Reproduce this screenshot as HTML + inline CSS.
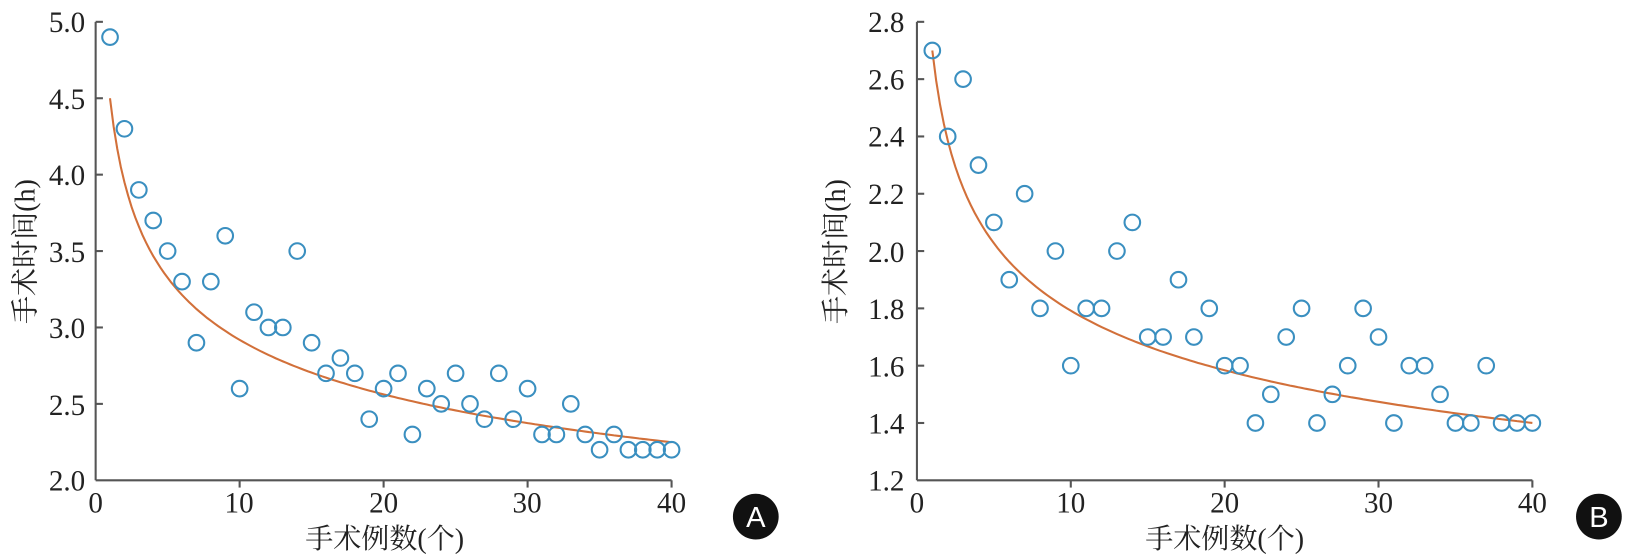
<!DOCTYPE html>
<html><head><meta charset="utf-8"><style>
html,body{margin:0;padding:0;background:#fff;}
svg text{font-family:"Liberation Serif","Noto Serif CJK SC",serif;fill:#222;}
</style></head><body>
<svg width="1630" height="554" viewBox="0 0 1630 554" xmlns="http://www.w3.org/2000/svg">
<g id="s" transform="scale(1.0396)">
<g id="A">
<line x1="92" y1="21" x2="92" y2="462" stroke="#555" stroke-width="2"/>
<line x1="92" y1="462" x2="646" y2="462" stroke="#555" stroke-width="2"/>
<g font-size="28" text-anchor="end">
<text x="82" y="31">5.0</text><text x="82" y="105">4.5</text><text x="82" y="178">4.0</text>
<text x="82" y="252">3.5</text><text x="82" y="325">3.0</text><text x="82" y="399">2.5</text><text x="82" y="472">2.0</text>
</g>
<g font-size="28" text-anchor="middle">
<text x="92" y="493">0</text><text x="230" y="493">10</text><text x="369" y="493">20</text><text x="507" y="493">30</text><text x="646" y="493">40</text>
</g>
<text x="370" y="527" font-size="27" text-anchor="middle">手术例数(个)</text>
<text transform="translate(33,242) rotate(-90)" font-size="27" text-anchor="middle">手术时间(h)</text>
<circle cx="727" cy="497" r="22" fill="#111"/>
<text x="727" y="507" font-size="28" text-anchor="middle" style="fill:#fff;font-family:'Liberation Sans',sans-serif">A</text>
</g>
<g id="B">
<line x1="882" y1="21" x2="882" y2="462" stroke="#555" stroke-width="2"/>
<line x1="882" y1="462" x2="1474" y2="462" stroke="#555" stroke-width="2"/>
<g font-size="28" text-anchor="end">
<text x="870" y="31">2.8</text><text x="870" y="86">2.6</text><text x="870" y="141">2.4</text><text x="870" y="196">2.2</text>
<text x="870" y="252">2.0</text><text x="870" y="307">1.8</text><text x="870" y="362">1.6</text><text x="870" y="417">1.4</text><text x="870" y="472">1.2</text>
</g>
<g font-size="28" text-anchor="middle">
<text x="882" y="493">0</text><text x="1030" y="493">10</text><text x="1178" y="493">20</text><text x="1326" y="493">30</text><text x="1474" y="493">40</text>
</g>
<text x="1178" y="527" font-size="27" text-anchor="middle">手术例数(个)</text>
<text transform="translate(813,242) rotate(-90)" font-size="27" text-anchor="middle">手术时间(h)</text>
<circle cx="1538" cy="497" r="22" fill="#111"/>
<text x="1538" y="507" font-size="28" text-anchor="middle" style="fill:#fff;font-family:'Liberation Sans',sans-serif">B</text>
</g>
</g>
</svg>
<script>
var NS="http://www.w3.org/2000/svg",s=document.getElementById('s');
function el(t,a){var e=document.createElementNS(NS,t);for(var k in a)e.setAttribute(k,a[k]);s.appendChild(e);return e;}
function panel(x0,x40,yTop,vTop,yBot,vBot,data,a,b,ticksY){
 var X=function(v){return x0+(x40-x0)*v/40},Y=function(v){return yBot+(yTop-yBot)*(v-vBot)/(vTop-vBot)};
 for(var i=10;i<=40;i+=10)el('line',{x1:X(i),y1:462,x2:X(i),y2:469,stroke:'#555','stroke-width':2});
 ticksY.forEach(function(v){el('line',{x1:x0,y1:Y(v),x2:x0+7,y2:Y(v),stroke:'#555','stroke-width':2});});
 var d='';for(var x=1;x<=40;x+=0.25){d+=(x==1?'M':'L')+X(x).toFixed(1)+','+Y(a*Math.pow(x,b)).toFixed(1);}
 el('path',{d:d,fill:'none',stroke:'#d2703a','stroke-width':2});
 data.forEach(function(v,i){el('circle',{cx:X(i+1),cy:Y(v),r:7.5,fill:'none',stroke:'#3a8fc0','stroke-width':2});});
}
panel(92,646,21,5.0,462,2.0,[4.9,4.3,3.9,3.7,3.5,3.3,2.9,3.3,3.6,2.6,3.1,3.0,3.0,3.5,2.9,2.7,2.8,2.7,2.4,2.6,2.7,2.3,2.6,2.5,2.7,2.5,2.4,2.7,2.4,2.6,2.3,2.3,2.5,2.3,2.2,2.3,2.2,2.2,2.2,2.2],4.5,-0.188,[2.5,3,3.5,4,4.5,5]);
panel(882,1474,21,2.8,462,1.2,[2.7,2.4,2.6,2.3,2.1,1.9,2.2,1.8,2.0,1.6,1.8,1.8,2.0,2.1,1.7,1.7,1.9,1.7,1.8,1.6,1.6,1.4,1.5,1.7,1.8,1.4,1.5,1.6,1.8,1.7,1.4,1.6,1.6,1.5,1.4,1.4,1.6,1.4,1.4,1.4],2.7,-0.178,[1.4,1.6,1.8,2.0,2.2,2.4,2.6,2.8]);
</script>
</body></html>
